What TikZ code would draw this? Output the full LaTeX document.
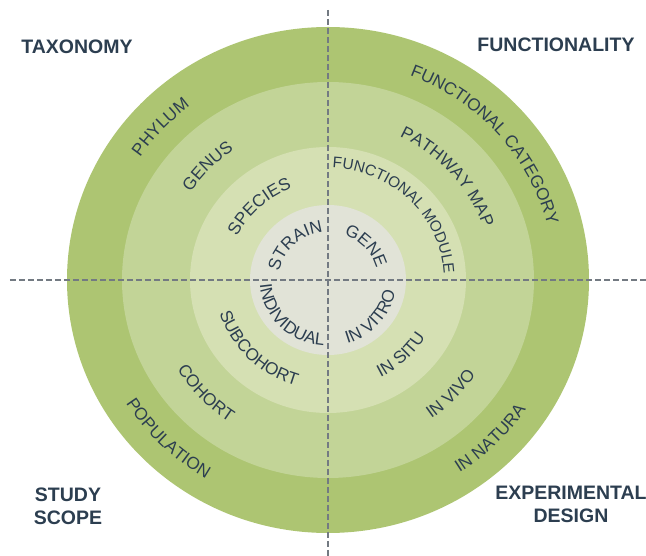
\documentclass[tikz,border=0pt]{standalone}
\usepackage{fontspec}
\setmainfont{Liberation Sans}
\usetikzlibrary{decorations.text}

\definecolor{ink}{HTML}{2C3E50}
\definecolor{dashgrey}{HTML}{737A82}
\definecolor{ringA}{HTML}{ADC572}
\definecolor{ringB}{HTML}{C2D497}
\definecolor{ringC}{HTML}{D5E0B3}
\definecolor{ringD}{HTML}{E1E3D7}
\newcommand{\ringfont}{\fontsize{17.2}{19}\selectfont}
\newcommand{\ringfontsmall}{\fontsize{15.4}{17}\selectfont}

\begin{document}
\begin{tikzpicture}[x=1pt,y=1pt,
    ring label/.style={decorate,decoration={text along path,text align=center,
        text color=ink,text={|\ringfont|#1}}},
    small ring label/.style={decorate,decoration={text along path,text align=center,
        text color=ink,text={|\ringfontsmall|#1}}},
    title/.style={font=\fontsize{19.5}{23}\selectfont\bfseries,text=ink,align=center},
    axis line/.style={dashgrey,line width=2pt,dash pattern=on 6pt off 3pt}]
  \useasboundingbox (-328,-276) rectangle (318,280);
  % the four rings
  \fill[ringA] (0,0) ellipse [x radius=261, y radius=253];
  \fill[ringB] (0,0) ellipse [x radius=206, y radius=198];
  \fill[ringC] (0,0) ellipse [x radius=138, y radius=133];
  \fill[ringD] (0,0) ellipse [x radius=78, y radius=75];
  % quadrant labels
  \node[title] (tax) at (-251,233) {TAXONOMY};
  \node[title] (func) at (228,235) {FUNCTIONALITY};
  \node[title] (scope) at (-260,-226.5) {STUDY\\SCOPE};
  \node[title] (design) at (243,-224.5) {EXPERIMENTAL\\DESIGN};
  % upper half, read clockwise
  \path[ring label=PHYLUM] (207.5:226.7 and 219) arc[start angle=207.5, end angle=67.5, x radius=226.7, y radius=219];
  \path[ring label=GENUS] (206.5:164.6 and 159) arc[start angle=206.5, end angle=66.5, x radius=164.6, y radius=159];
  \path[ring label=SPECIES] (203:101.4 and 98) arc[start angle=203, end angle=63, x radius=101.4, y radius=98];
  \path[ring label=STRAIN] (203:49.7 and 48) arc[start angle=203, end angle=63, x radius=49.7, y radius=48];
  \path[ring label={FUNCTIONAL CATEGORY}] (111:226.7 and 219) arc[start angle=111, end angle=-29, x radius=226.7, y radius=219];
  \path[ring label={PATHWAY MAP}] (111:164.6 and 159) arc[start angle=111, end angle=-29, x radius=164.6, y radius=159];
  \path[small ring label={FUNCTIONAL MODULE}] (115:115.9 and 112) arc[start angle=115, end angle=-25, x radius=115.9, y radius=112];
  \path[ring label=GENE] (112:49.7 and 48) arc[start angle=112, end angle=-28, x radius=49.7, y radius=48];
  % lower half, read anticlockwise
  \path[ring label=POPULATION] (155:239.1 and 231) arc[start angle=155, end angle=295, x radius=239.1, y radius=231];
  \path[ring label=COHORT] (153:177 and 171) arc[start angle=153, end angle=293, x radius=177, y radius=171];
  \path[ring label=SUBCOHORT] (155:113.9 and 110) arc[start angle=155, end angle=295, x radius=113.9, y radius=110];
  \path[ring label=INDIVIDUAL] (155:68.3 and 66) arc[start angle=155, end angle=295, x radius=68.3, y radius=66];
  \path[ring label={IN NATURA}] (245.5:239.1 and 231) arc[start angle=245.5, end angle=385.5, x radius=239.1, y radius=231];
  \path[ring label={IN VIVO}] (247:177 and 171) arc[start angle=247, end angle=387, x radius=177, y radius=171];
  \path[ring label={IN SITU}] (244:113.9 and 110) arc[start angle=244, end angle=384, x radius=113.9, y radius=110];
  \path[ring label={IN VITRO}] (249:68.3 and 66) arc[start angle=249, end angle=389, x radius=68.3, y radius=66];
  % dashed cross
  \coordinate (west) at (-318,0);
  \coordinate (east) at (318,0);
  \coordinate (north) at (0,270);
  \coordinate (south) at (0,-276);
  \draw[axis line] (west) -- (east);
  \draw[axis line] (north) -- (south);
\end{tikzpicture}
\end{document}
